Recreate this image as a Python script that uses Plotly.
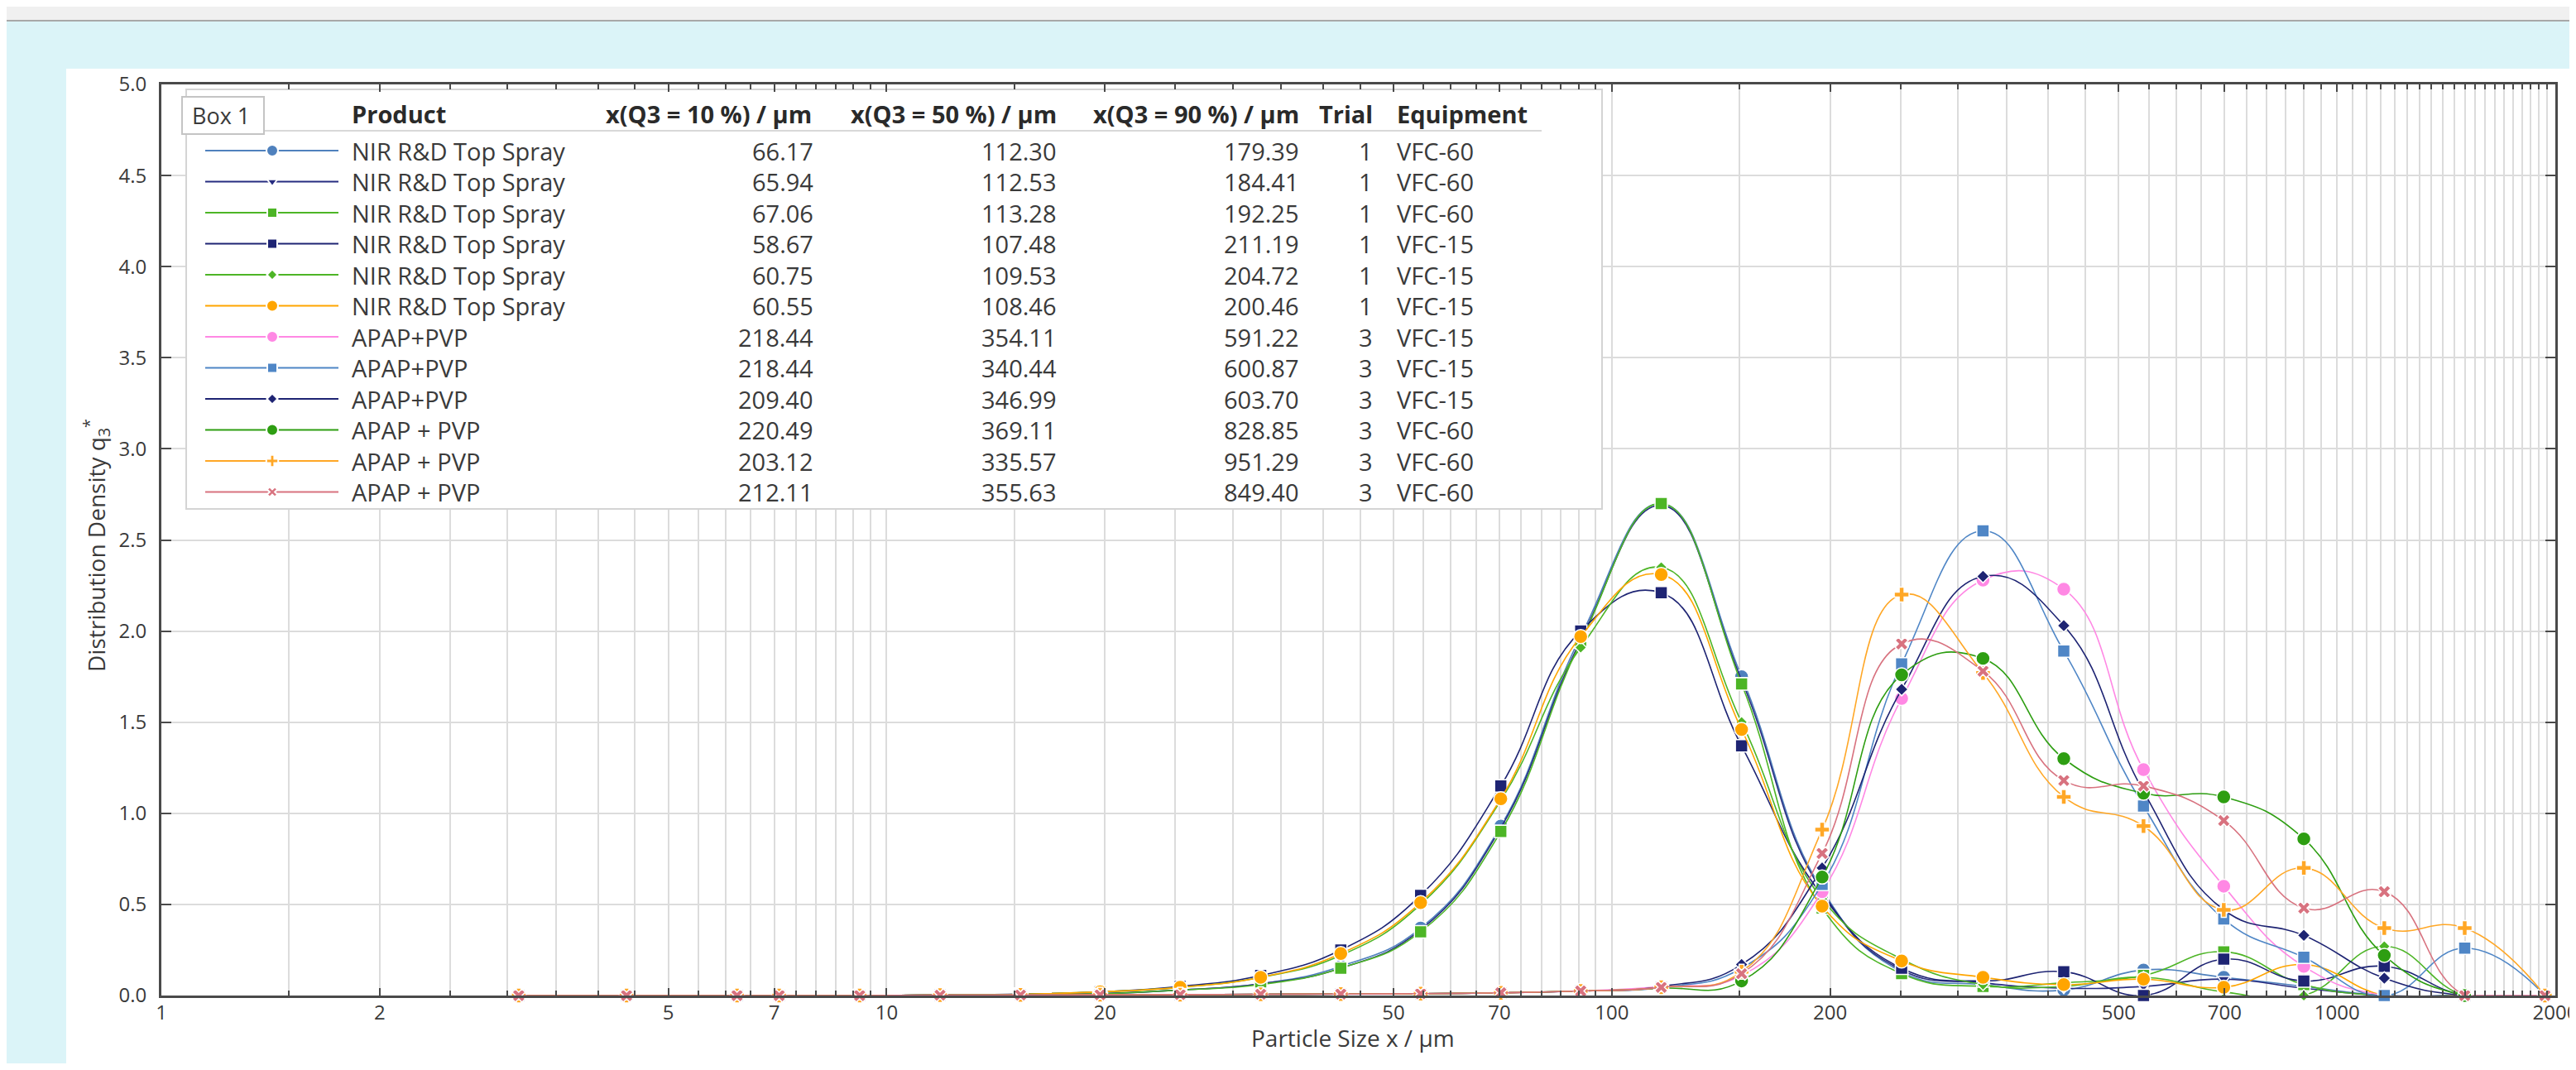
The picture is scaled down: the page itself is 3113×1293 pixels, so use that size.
import math
import plotly.graph_objects as go

# ---------------- data ----------------
X_UM = [3.11, 4.38, 6.22, 7.11, 9.18, 11.85, 15.3, 19.7, 25.4, 32.8, 42.3, 54.5, 70.3,
        90.6, 117, 151, 195, 251, 325, 420, 541, 698, 900, 1162, 1500, 1935]

Q_NIR_1 = [0, 0, 0, 0, 0, 0.003, 0.004, 0.01, 0.03, 0.065, 0.16, 0.37, 0.93, 1.97, 2.70, 1.75, 0.58, 0.13, 0.06, 0.03, 0.14, 0.10, 0.05, 0, 0, 0]
Q_NIR_2 = [0, 0, 0, 0, 0, 0.003, 0.004, 0.01, 0.03, 0.065, 0.15, 0.36, 0.92, 1.95, 2.69, 1.73, 0.57, 0.14, 0.07, 0.04, 0.05, 0.09, 0.04, 0, 0, 0]
Q_NIR_3 = [0, 0, 0, 0, 0, 0.003, 0.004, 0.01, 0.03, 0.06, 0.15, 0.35, 0.90, 1.94, 2.70, 1.71, 0.48, 0.12, 0.05, 0.07, 0.11, 0.24, 0.06, 0, 0, 0]
Q_NIR_4 = [0, 0, 0, 0, 0, 0.003, 0.008, 0.02, 0.05, 0.11, 0.25, 0.55, 1.15, 2.00, 2.21, 1.37, 0.55, 0.15, 0.08, 0.13, 0.0, 0.20, 0.08, 0.16, 0, 0]
Q_NIR_5 = [0, 0, 0, 0, 0, 0.003, 0.007, 0.02, 0.045, 0.10, 0.22, 0.50, 1.07, 1.91, 2.35, 1.50, 0.53, 0.20, 0.06, 0.05, 0.10, 0.02, 0.0, 0.27, 0, 0]
Q_NIR_6 = [0, 0, 0, 0, 0, 0.003, 0.007, 0.02, 0.045, 0.10, 0.23, 0.51, 1.08, 1.97, 2.31, 1.46, 0.49, 0.19, 0.10, 0.06, 0.09, 0.045, 0.17, 0, 0, 0]
Q_APAP_7 = [0, 0, 0, 0, 0, 0.002, 0.003, 0.004, 0.005, 0.007, 0.008, 0.01, 0.015, 0.025, 0.05, 0.11, 0.57, 1.63, 2.28, 2.23, 1.24, 0.60, 0.16, 0, 0, 0]
Q_APAP_8 = [0, 0, 0, 0, 0, 0.002, 0.003, 0.004, 0.005, 0.007, 0.008, 0.01, 0.015, 0.025, 0.045, 0.15, 0.61, 1.82, 2.55, 1.89, 1.04, 0.42, 0.21, 0, 0.26, 0]
Q_APAP_9 = [0, 0, 0, 0, 0, 0.002, 0.003, 0.004, 0.005, 0.007, 0.008, 0.01, 0.015, 0.025, 0.05, 0.17, 0.70, 1.68, 2.30, 2.03, 1.12, 0.47, 0.33, 0.095, 0, 0]
Q_APAP_10 = [0, 0, 0, 0, 0, 0.002, 0.003, 0.004, 0.005, 0.007, 0.008, 0.01, 0.015, 0.025, 0.04, 0.08, 0.65, 1.76, 1.85, 1.30, 1.11, 1.09, 0.86, 0.22, 0, 0]
Q_APAP_11 = [0, 0, 0, 0, 0, 0.002, 0.003, 0.004, 0.005, 0.007, 0.008, 0.01, 0.015, 0.025, 0.045, 0.13, 0.91, 2.20, 1.77, 1.09, 0.93, 0.47, 0.70, 0.37, 0.37, 0]
Q_APAP_12 = [0, 0, 0, 0, 0, 0.002, 0.003, 0.004, 0.005, 0.007, 0.008, 0.01, 0.015, 0.025, 0.045, 0.12, 0.78, 1.93, 1.78, 1.18, 1.15, 0.96, 0.48, 0.57, 0, 0]

SERIES = [Q_NIR_1, Q_NIR_2, Q_NIR_3, Q_NIR_4, Q_NIR_5, Q_NIR_6,
          Q_APAP_7, Q_APAP_8, Q_APAP_9, Q_APAP_10, Q_APAP_11, Q_APAP_12]

PRODUCTS = ["NIR R&D Top Spray", "NIR R&D Top Spray", "NIR R&D Top Spray", "NIR R&D Top Spray",
            "NIR R&D Top Spray", "NIR R&D Top Spray", "APAP+PVP", "APAP+PVP", "APAP+PVP",
            "APAP + PVP", "APAP + PVP", "APAP + PVP"]
D10 = [66.17, 65.94, 67.06, 58.67, 60.75, 60.55, 218.44, 218.44, 209.40, 220.49, 203.12, 212.11]
D50 = [112.30, 112.53, 113.28, 107.48, 109.53, 108.46, 354.11, 340.44, 346.99, 369.11, 335.57, 355.63]
D90 = [179.39, 184.41, 192.25, 211.19, 204.72, 200.46, 591.22, 600.87, 603.70, 828.85, 951.29, 849.40]
TRIAL = [1, 1, 1, 1, 1, 1, 3, 3, 3, 3, 3, 3]
EQUIPMENT = ["VFC-60", "VFC-60", "VFC-60", "VFC-15", "VFC-15", "VFC-15",
             "VFC-15", "VFC-15", "VFC-15", "VFC-60", "VFC-60", "VFC-60"]
HEADERS = ["Product", "x(Q3 = 10 %) / µm", "x(Q3 = 50 %) / µm", "x(Q3 = 90 %) / µm", "Trial", "Equipment"]

X_LABELED = [1, 2, 5, 7, 10, 20, 50, 70, 100, 200, 500, 700, 1000, 2000]
X_TITLE = "Particle Size x / µm"
Y_TITLE = "Distribution Density q<sub>3</sub><sup>*</sup>"

# ---------------- styles ----------------
COLORS = ["#4F81BD", "#262C80", "#4DB526", "#1E2473", "#4DB526", "#FFA500",
          "#FF88E4", "#4F86C6", "#1E2473", "#2E9E12", "#FFA726", "#D8727F"]
SYMBOLS = ["circle", "triangle-down", "square", "square", "diamond", "circle",
           "circle", "square", "diamond", "circle", "cross", "x"]
MSIZE = [17, 13, 15, 15, 11, 17, 17, 15, 12, 17, 15, 14]
LSIZE = [14, 11, 12, 12, 10, 14, 14, 12, 10, 14, 12, 11]

# page geometry (page pixels); the html body adds an 8px margin around the figure
PAGE_W, PAGE_H = 3113, 1293
BODY = 8
FW, FH = PAGE_W - 2 * BODY, PAGE_H - 2 * BODY
L, R, T, B = 195, 3088, 102, 1203      # plot area in page pixels
XMAX = 2000
FONT = "Open Sans"
TXT = "#3a3a3a"
CYAN = "#DBF4F8"
GRID = "#DCDCDC"
AXC = "#4a4a4a"


def pxx(p):
    return (p - L) / (R - L)


def pxy(p):
    return (B - p) / (B - T)


def dx(p):  # page pixel -> main x-axis data position (log axis)
    return 10 ** (pxx(p) * math.log10(XMAX))


def dy(p):  # page pixel -> main y-axis data position
    return pxy(p) * 5.0


# gridline positions (1-10 step .5, 10-100 step 5, 100-2000 step 50)
grid_vals = []
for k in range(2, 21):
    grid_vals.append(k * 0.5)
for k in range(3, 21):
    grid_vals.append(k * 5)
for k in range(3, 41):
    grid_vals.append(k * 50)
grid_vals = sorted(set([1.0] + grid_vals))
minor_vals = [v for v in grid_vals if all(abs(v - m) > 1e-9 for m in X_LABELED)]

fig = go.Figure()

for i, ys in enumerate(SERIES):
    fig.add_trace(go.Scatter(
        x=X_UM, y=ys, mode="lines+markers", cliponaxis=False,
        line=dict(color=COLORS[i], width=1.6, shape="spline", smoothing=1.3),
        marker=dict(symbol=SYMBOLS[i], size=MSIZE[i], color=COLORS[i],
                    line=dict(color="white", width=1.5)),
        xaxis="x", yaxis="y", hoverinfo="skip"))

# ---------------- legend table ----------------
ROW0, ROWH = 182, 37.5
LINE_X0, LINE_X1, MARK_X = 248, 409, 329
shapes = []
annotations = []

# page background: gray title band, cyan frame, white panel (paper bg)
shapes.append(dict(type="rect", xref="paper", yref="paper", x0=pxx(-20), x1=pxx(PAGE_W + 20),
                   y0=pxy(25), y1=pxy(83), fillcolor=CYAN, line=dict(width=0), layer="below"))
shapes.append(dict(type="rect", xref="paper", yref="paper", x0=pxx(-20), x1=pxx(80),
                   y0=pxy(25), y1=pxy(PAGE_H + 20), fillcolor=CYAN, line=dict(width=0), layer="below"))
shapes.append(dict(type="rect", xref="paper", yref="paper", x0=pxx(-20), x1=pxx(PAGE_W + 20),
                   y0=pxy(-20), y1=pxy(25), fillcolor="#F0F0F0", line=dict(width=0), layer="below"))
shapes.append(dict(type="line", xref="paper", yref="paper", x0=pxx(-20), x1=pxx(PAGE_W + 20),
                   y0=pxy(25), y1=pxy(25), line=dict(color="#A8A8A8", width=2), layer="below"))

# legend box (between gridlines and traces)
shapes.append(dict(type="rect", xref="x", yref="y", x0=dx(225), x1=dx(1936), y0=dy(615), y1=dy(108),
                   fillcolor="white", line=dict(color="#D4D4D4", width=2), layer="between"))
shapes.append(dict(type="line", xref="x", yref="y", x0=dx(320), x1=dx(1863), y0=dy(158), y1=dy(158),
                   line=dict(color="#D8D8D8", width=2), layer="between"))
shapes.append(dict(type="rect", xref="x", yref="y", x0=dx(220), x1=dx(319), y0=dy(162), y1=dy(117),
                   fillcolor="white", line=dict(color="#C4C4C4", width=2), layer="between"))

annotations.append(dict(xref="x2", yref="y2", x=230, y=139, text="Box 1", showarrow=False,
                        xanchor="left", yanchor="middle", font=dict(size=27, color=TXT)))
hdr_pos = [(423, "left"), (983, "right"), (1279, "right"), (1572, "right"), (1661, "right"), (1686, "left")]
for (hx, anc), htxt in zip(hdr_pos, HEADERS):
    annotations.append(dict(xref="x2", yref="y2", x=hx, y=137, text="<b>" + htxt + "</b>",
                            showarrow=False, xanchor=anc, yanchor="middle",
                            font=dict(size=29, color="#2a2a2a")))

for i in range(len(PRODUCTS)):
    ry = ROW0 + ROWH * i
    fig.add_trace(go.Scatter(x=[LINE_X0, LINE_X1], y=[ry, ry], mode="lines",
                             line=dict(color=COLORS[i], width=2), xaxis="x2", yaxis="y2",
                             hoverinfo="skip"))
    fig.add_trace(go.Scatter(x=[MARK_X], y=[ry], mode="markers",
                             marker=dict(symbol=SYMBOLS[i], size=LSIZE[i], color=COLORS[i],
                                         line=dict(color="white", width=2)),
                             xaxis="x2", yaxis="y2", hoverinfo="skip"))
    cells = [(423, "left", PRODUCTS[i]), (985, "right", f"{D10[i]:.2f}"),
             (1279, "right", f"{D50[i]:.2f}"), (1572, "right", f"{D90[i]:.2f}"),
             (1661, "right", str(TRIAL[i])), (1686, "left", EQUIPMENT[i])]
    for cx, anc, ctxt in cells:
        annotations.append(dict(xref="x2", yref="y2", x=cx, y=ry, text=ctxt, showarrow=False,
                                xanchor=anc, yanchor="middle", font=dict(size=29, color=TXT)))

# axis titles
annotations.append(dict(xref="paper", yref="paper", x=pxx(116), y=pxy(659), text=Y_TITLE,
                        textangle=-90, showarrow=False, xanchor="center", yanchor="middle",
                        font=dict(size=28, color=TXT)))
annotations.append(dict(xref="paper", yref="paper", x=pxx(1635), y=pxy(1254), text=X_TITLE,
                        showarrow=False, xanchor="center", yanchor="middle",
                        font=dict(size=28, color=TXT)))

fig.update_layout(
    width=FW, height=FH, autosize=False,
    margin=dict(l=L - BODY, r=FW - (R - BODY), t=T - BODY, b=FH - (B - BODY), pad=0,
                autoexpand=False),
    paper_bgcolor="white", plot_bgcolor="white", showlegend=False,
    font=dict(family=FONT, color=TXT),
    xaxis=dict(type="log", range=[0, math.log10(XMAX)], automargin=False,
               tickmode="array", tickvals=X_LABELED, ticktext=[str(v) for v in X_LABELED],
               ticks="inside", ticklen=9, tickwidth=2, tickcolor=AXC,
               showgrid=True, gridcolor=GRID, gridwidth=1.5,
               minor=dict(tickmode="array", tickvals=minor_vals, ticks="inside", ticklen=6,
                          tickwidth=1.5, tickcolor=AXC, showgrid=True, gridcolor=GRID, gridwidth=1.5),
               showline=True, linecolor=AXC, linewidth=3, mirror="allticks",
               tickfont=dict(size=24, color=TXT), zeroline=False, ticklabeloverflow="allow",
               ticklabelstandoff=-3),
    yaxis=dict(range=[0, 5], tick0=0, dtick=0.5, tickformat=".1f", automargin=False,
               ticks="inside", ticklen=12, tickwidth=2, tickcolor=AXC,
               showgrid=True, gridcolor=GRID, gridwidth=2,
               showline=True, linecolor=AXC, linewidth=3, mirror="allticks",
               tickfont=dict(size=24, color=TXT), zeroline=False, ticklabelstandoff=10),
    xaxis2=dict(overlaying="x", anchor="y2", range=[L, R], visible=False, fixedrange=True,
                automargin=False),
    yaxis2=dict(overlaying="y", anchor="x2", range=[B, T], visible=False, fixedrange=True,
                automargin=False),
    shapes=shapes, annotations=annotations,
)

fig.write_html("out.html")
